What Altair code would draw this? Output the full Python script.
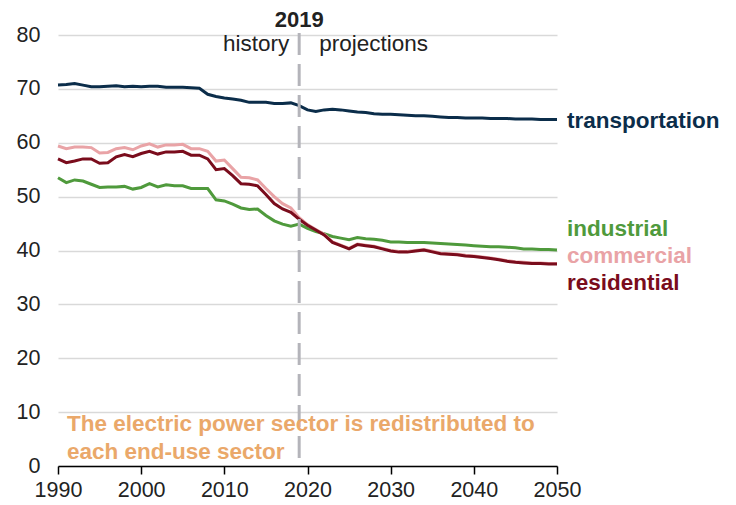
import altair as alt
import pandas as pd

years = list(range(1990, 2051))

transportation = [
    70.7, 70.8, 71.0, 70.7, 70.4, 70.4, 70.5, 70.6, 70.4, 70.5, 70.4,
    70.5, 70.5, 70.3, 70.3, 70.3, 70.2, 70.1, 69.0, 68.6, 68.3,
    68.1, 67.9, 67.5, 67.5, 67.5, 67.3, 67.3, 67.4, 66.9, 66.1,
    65.8, 66.1, 66.2, 66.1, 65.9, 65.7, 65.6, 65.4, 65.3, 65.3,
    65.2, 65.1, 65.0, 65.0, 64.9, 64.8, 64.7, 64.7, 64.6, 64.6,
    64.6, 64.5, 64.5, 64.5, 64.4, 64.4, 64.4, 64.3, 64.3, 64.3,
]
industrial = [
    53.5, 52.6, 53.1, 52.9, 52.3, 51.7, 51.8, 51.8, 51.9, 51.4, 51.7,
    52.4, 51.8, 52.2, 52.0, 52.0, 51.5, 51.5, 51.5, 49.4, 49.2,
    48.6, 47.9, 47.6, 47.7, 46.5, 45.5, 44.9, 44.5, 44.9, 44.1,
    43.5, 43.1, 42.6, 42.3, 42.0, 42.4, 42.2, 42.1, 41.9, 41.6,
    41.6, 41.5, 41.5, 41.5, 41.4, 41.3, 41.2, 41.1, 41.0, 40.9,
    40.8, 40.7, 40.7, 40.6, 40.5, 40.3, 40.3, 40.2, 40.2, 40.1,
]
commercial = [
    59.4, 58.9, 59.2, 59.2, 59.1, 58.1, 58.2, 58.9, 59.1, 58.7, 59.4,
    59.8, 59.2, 59.6, 59.6, 59.7, 58.9, 58.9, 58.4, 56.6, 56.8,
    55.2, 53.6, 53.5, 53.1, 51.5, 50.0, 48.7, 47.9, 46.1, 44.8,
    43.9, 43.0, 41.6, 41.0, 40.4, 41.2, 41.0, 40.8, 40.4, 40.0,
    39.8, 39.8, 40.0, 40.2, 39.85, 39.5, 39.4, 39.3, 39.1, 39.0,
    38.8, 38.6, 38.4, 38.1, 37.9, 37.8, 37.7, 37.7, 37.6, 37.6,
]
residential = [
    57.0, 56.3, 56.6, 57.0, 57.0, 56.2, 56.3, 57.4, 57.8, 57.4, 58.0,
    58.4, 57.9, 58.3, 58.3, 58.4, 57.7, 57.7, 57.0, 55.0, 55.2,
    53.9, 52.4, 52.3, 52.0, 50.4, 48.7, 47.7, 47.1, 45.8, 44.7,
    43.8, 42.9, 41.5, 40.9, 40.3, 41.1, 40.9, 40.7, 40.3, 39.9,
    39.7, 39.7, 39.9, 40.1, 39.75, 39.4, 39.3, 39.2, 39.0, 38.9,
    38.7, 38.5, 38.3, 38.0, 37.8, 37.7, 37.6, 37.6, 37.5, 37.5,
]

series_names = ["transportation", "industrial", "commercial", "residential"]
series_values = [transportation, industrial, commercial, residential]
series_colors = ["#0b2d4a", "#4f9a3c", "#e9a3a6", "#7a0c1c"]
label_y = [64.0, 44.0, 39.0, 34.0]  # label anchor positions (layout)

x_ticks = [1990, 2000, 2010, 2020, 2030, 2040, 2050]
y_ticks = [0, 10, 20, 30, 40, 50, 60, 70, 80]

FONT = "Liberation Sans"
FS = 22.5

x_scale = alt.Scale(domain=[1990, 2050], nice=False, zero=False)
y_scale = alt.Scale(domain=[0, 80], nice=False)

x_axis = alt.Axis(values=x_ticks, format="d", grid=False, domain=True, domainColor="#000000",
                  domainWidth=1.5, tickColor="#000000", tickWidth=1.5, tickSize=8,
                  labelFontSize=21.5, labelColor="#222222", labelFont=FONT,
                  labelPadding=5, title=None, labelFlush=False)
y_axis = alt.Axis(values=y_ticks, grid=True, gridColor="#d9d9d9", gridWidth=1.5,
                  domain=False, ticks=False, labelFontSize=21.5, labelColor="#222222",
                  labelFont=FONT, labelPadding=18, title=None)


def X(field="year:Q"):
    return alt.X(field, scale=x_scale, axis=x_axis)


def Y(field="value:Q"):
    return alt.Y(field, scale=y_scale, axis=y_axis)


rows = []
for name, vals in zip(series_names, series_values):
    for yr, v in zip(years, vals):
        rows.append({"year": yr, "value": v, "sector": name})
df = pd.DataFrame(rows)

layers = []
for i, name in enumerate(series_names):
    layers.append(
        alt.Chart(df).transform_filter(alt.datum.sector == name)
        .mark_line(color=series_colors[i], strokeWidth=3, interpolate="linear")
        .encode(x=X(), y=Y())
    )

divider = alt.Chart(pd.DataFrame({"year": [2019]})).mark_rule(
    color="#b4b4ba", strokeWidth=3, strokeDash=[22, 9]
).encode(x=X(), y=alt.value(-2), y2=alt.value(431))

top_2019 = alt.Chart(pd.DataFrame({"year": [2019], "t": ["2019"]})).mark_text(
    font=FONT, fontSize=22, fontWeight="bold", color="#222222", align="center", baseline="middle"
).encode(x=X(), y=alt.value(-15), text="t:N")

hist = alt.Chart(pd.DataFrame({"year": [2019], "t": ["history"]})).mark_text(
    font=FONT, fontSize=FS, color="#222222", align="right", baseline="middle", dx=-10
).encode(x=X(), y=alt.value(9), text="t:N")

proj = alt.Chart(pd.DataFrame({"year": [2019], "t": ["projections"]})).mark_text(
    font=FONT, fontSize=FS, color="#222222", align="left", baseline="middle", dx=20
).encode(x=X(), y=alt.value(9), text="t:N")

lab_df = pd.DataFrame({"year": [2050] * 4, "value": label_y, "t": series_names})
labels = alt.Chart(lab_df).mark_text(
    font=FONT, fontSize=FS, fontWeight="bold", align="left", baseline="middle", dx=10
).encode(
    x=X(),
    y=Y(),
    text="t:N",
    color=alt.Color("t:N", scale=alt.Scale(domain=series_names, range=series_colors), legend=None),
)

note = alt.Chart(pd.DataFrame({"t": ["x"]})).mark_text(
    font=FONT, fontSize=FS, fontWeight="bold", color="#eaa86a", align="left",
    baseline="middle", lineHeight=28,
).encode(
    x=alt.value(9), y=alt.value(389),
    text=alt.value(["The electric power sector is redistributed to", "each end-use sector"]),
)

chart = alt.layer(*layers, divider, top_2019, hist, proj, labels, note).properties(
    width=499, height=431,
    autosize=alt.AutoSizeParams(type="none"),
    padding={"left": 50, "top": 27, "right": 171, "bottom": 38},
).configure(
    background="#ffffff",
    view=alt.ViewConfig(stroke="transparent", strokeWidth=0),
)

chart.save("out.html", embed_options={"renderer": "svg", "actions": False})
